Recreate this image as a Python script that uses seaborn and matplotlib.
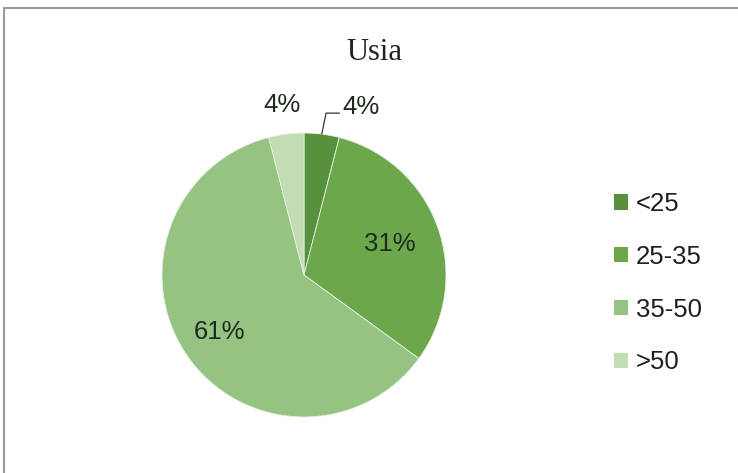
import numpy as np
import matplotlib
matplotlib.use("Agg")
import matplotlib.pyplot as plt
from matplotlib.lines import Line2D
from matplotlib.patches import Patch
import seaborn as sns

# Data
categories = ["<25", "25-35", "35-50", ">50"]
values = [4, 31, 61, 4]
labels = ["4%", "31%", "61%", "4%"]
colors = ["#56913e", "#6ba84b", "#95c382", "#c2dcb4"]
title = "Usia"

sns.set_theme(style="white")
plt.rcParams["font.family"] = ["Liberation Sans", "DejaVu Sans"]

W, H = 738, 473
fig = plt.figure(figsize=(W / 100, H / 100), dpi=100)
fig.patch.set_facecolor("white")

# pie axes (center ~ (304,275) px, radius ~142 px)
cx, cy, R = 304, 275, 142
ax = fig.add_axes([(cx - R) / W, (H - cy - R) / H, 2 * R / W, 2 * R / H])
wedges, _ = ax.pie(values, colors=colors, startangle=90, counterclock=False,
                   radius=1.0, wedgeprops=dict(edgecolor="#e8f0e4", linewidth=0.6))
ax.set_xlim(-1, 1)
ax.set_ylim(-1, 1)
ax.set_aspect("equal")
ax.axis("off")

txt_kw = dict(fontsize=18.5, color="#1f2a1f", clip_on=False)
label_r = [None, 0.64, 0.72, 1.21]
for i, w in enumerate(wedges):
    mid = np.deg2rad((w.theta1 + w.theta2) / 2)
    if label_r[i] is None:
        # leader-line label for the first small slice
        x0, y0 = np.cos(mid), np.sin(mid)
        ax.plot([x0, x0 + 0.03, 0.25], [y0, 1.14, 1.14], color="#333333",
                lw=0.9, clip_on=False)
        ax.text(0.27, 1.18, labels[i], ha="left", va="center", **txt_kw)
    else:
        r = label_r[i]
        ax.text(r * np.cos(mid), r * np.sin(mid), labels[i],
                ha="center", va="center", **txt_kw)

# title
fig.text(374 / W, 1 - 52 / H, title, ha="center", va="center",
         fontsize=22, family=["Liberation Serif", "DejaVu Serif"], color="#222222")

# legend
handles = [Patch(facecolor=c, edgecolor="none") for c in colors]
fig.legend(handles, categories, loc="upper left",
           bbox_to_anchor=(614 / W, 1 - 192 / H), frameon=False,
           fontsize=18.5, handlelength=0.55, handleheight=0.55,
           handletextpad=0.3, labelspacing=1.12, borderpad=0, borderaxespad=0,
           labelcolor="#1f1f1f")

# outer border lines (top and left)
fig.add_artist(Line2D([4 / W, 1], [1 - 8 / H, 1 - 8 / H], transform=fig.transFigure,
                      color="#9a9a9a", lw=1.5))
fig.add_artist(Line2D([4 / W, 4 / W], [0, 1 - 8 / H], transform=fig.transFigure,
                      color="#9a9a9a", lw=1.5))

fig.savefig("out.png", dpi=100, facecolor="white")
